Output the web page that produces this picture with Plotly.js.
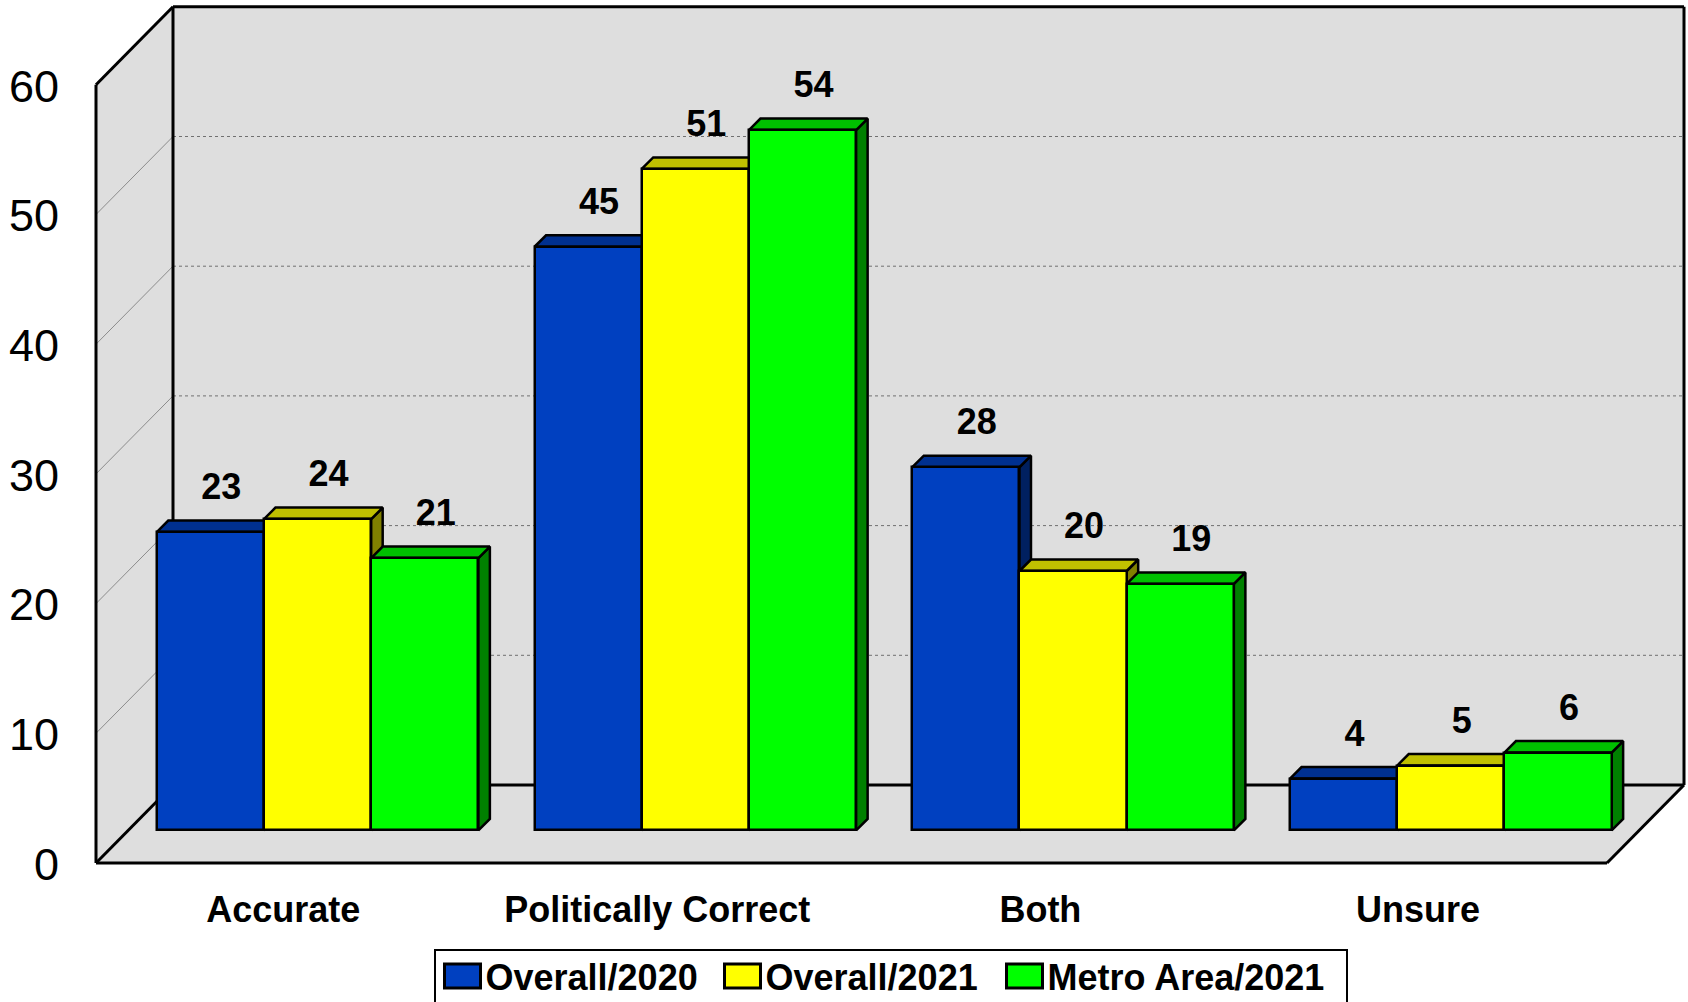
<!DOCTYPE html>
<html><head><meta charset="utf-8">
<script src="https://cdn.plot.ly/plotly-3.0.1.min.js"></script>
<style>html,body{margin:0;padding:0;background:#fff;overflow:hidden}#chart{width:1688px;height:1002px}</style>
</head><body><div id="chart"></div>
<script>
const categories = ["Accurate", "Politically Correct", "Both", "Unsure"];
const overall2020 = [23, 45, 28, 4];
const overall2021 = [24, 51, 20, 5];
const metro2021 = [21, 54, 19, 6];
const seriesNames = ["Overall/2020", "Overall/2021", "Metro Area/2021"];
const frontColors = ["#0040C0", "#FFFF00", "#00FF00"];
const topColors = ["#003090", "#C0C000", "#00C000"];
const sideColors = ["#002060", "#808000", "#008000"];
const yTicks = [0, 10, 20, 30, 40, 50, 60];
const gridValues = [10, 20, 30, 40, 50];

const seriesValues = [overall2020, overall2021, metro2021];
const FONT = '"Liberation Sans", Arial, sans-serif';
// pixels per data unit on each axis
const ux = 377.75, uy = 12.97;
const X = p => p / ux, Y = p => p / uy;
const wallDx = X(77), wallDy = Y(78);     // depth of the floor / side wall
const planeDx = X(32.7), planeDy = Y(32.6);   // where the bars stand on the floor
const barW = X(107.2), barDx = X(11.5), barDy = Y(11.5);
const x0 = -0.5, x1 = 3.5, yTop = 60;
const tickNudge = [X(-1.6), X(-5.4), 0, 0];

const traces = [];
seriesValues.forEach((vals, s) => {
  const tx = [], ty = [], sx = [], sy = [];
  vals.forEach((v, i) => {
    const l = i + planeDx + (s - 1.5) * barW, r = l + barW;
    const t = v + planeDy;
    tx.push(l, r, r + barDx, l + barDx, l, null);
    ty.push(t, t, t + barDy, t + barDy, t, null);
    sx.push(r, r, r + barDx, r + barDx, r, null);
    sy.push(planeDy, t, t + barDy, planeDy + barDy, planeDy, null);
  });
  traces.push({type: "scatter", mode: "lines", x: sx, y: sy, fill: "toself", fillcolor: sideColors[s],
    line: {color: "#000", width: 2.5}, hoverinfo: "skip", showlegend: false, zorder: s * 3});
  traces.push({type: "scatter", mode: "lines", x: tx, y: ty, fill: "toself", fillcolor: topColors[s],
    line: {color: "#000", width: 2.5}, hoverinfo: "skip", showlegend: false, zorder: s * 3 + 1});
  traces.push({type: "bar", name: seriesNames[s],
    x: vals.map((v, i) => i + planeDx + (s - 1) * barW), y: vals,
    base: vals.map(() => planeDy), width: barW,
    marker: {color: frontColors[s], line: {color: "#000", width: 2.5}}, zorder: s * 3 + 2});
});
seriesValues.forEach((vals, s) => {
  traces.push({type: "scatter", mode: "text",
    x: vals.map((v, i) => i + planeDx + (s - 1) * barW + barDx - X(0.5)),
    y: vals.map(v => v + planeDy + Y(42)),
    text: vals.map(String), textposition: "middle center",
    textfont: {family: FONT, size: 36, color: "#000", weight: "bold"},
    hoverinfo: "skip", showlegend: false, zorder: 20, cliponaxis: false});
});

const wallLine = {color: "#000", width: 3};
const noLine = {width: 0};
const poly = pts => "M" + pts.map(p => p[0] + "," + p[1]).join("L") + "Z";
const shapes = [
  {type: "path", path: poly([[x0 + wallDx, wallDy], [x1 + wallDx, wallDy], [x1 + wallDx, yTop + wallDy + 0.0], [x0 + wallDx, yTop + wallDy]]), fillcolor: "#DEDEDE", line: noLine},
  {type: "path", path: poly([[x0, 0], [x0 + wallDx, wallDy], [x0 + wallDx, yTop + wallDy], [x0, yTop]]), fillcolor: "#DEDEDE", line: noLine},
  {type: "path", path: poly([[x0, 0], [x1, 0], [x1 + wallDx, wallDy], [x0 + wallDx, wallDy]]), fillcolor: "#DEDEDE", line: noLine}
];
gridValues.forEach(v => {
  shapes.push({type: "line", x0: x0 + wallDx, x1: x1 + wallDx, y0: v + wallDy, y1: v + wallDy, line: {color: "#707070", width: 1, dash: "dot"}});
  shapes.push({type: "line", x0: x0, x1: x0 + wallDx, y0: v, y1: v + wallDy, line: {color: "#8C8C8C", width: 1}});
});
const edge = (a, b, c, d) => ({type: "line", x0: a, y0: b, x1: c, y1: d, line: wallLine});
shapes.push(
  edge(x0, 0, x0, yTop), edge(x0, yTop, x0 + wallDx, yTop + wallDy),
  edge(x0 + wallDx, wallDy, x0 + wallDx, yTop + wallDy), edge(x0 + wallDx, yTop + wallDy, x1 + wallDx, yTop + wallDy),
  edge(x1 + wallDx, wallDy, x1 + wallDx, yTop + wallDy),
  edge(x0, 0, x1, 0), edge(x0, 0, x0 + wallDx, wallDy), edge(x1, 0, x1 + wallDx, wallDy),
  edge(x0 + wallDx, wallDy, x1 + wallDx, wallDy)
);
shapes.forEach(s => s.layer = "below");

const layout = {
  width: 1688, height: 1002,
  margin: {l: 90, r: 0, t: 2, b: 133, pad: 0, autoexpand: false},
  paper_bgcolor: "#fff", plot_bgcolor: "#fff",
  barmode: "overlay", bargap: 0, showlegend: true, hovermode: false,
  xaxis: {range: [x0 - X(6), x0 + X(1592)], tickmode: "array", tickvals: categories.map((c, i) => i + tickNudge[i]), ticktext: categories,
    showgrid: false, zeroline: false, showline: false, ticks: "", ticklabelstandoff: 16,
    tickfont: {family: FONT, size: 36, color: "#000", weight: "bold"}, fixedrange: true},
  yaxis: {range: [Y(-6), Y(861)], tickmode: "array", tickvals: yTicks, ticktext: yTicks.map(String),
    showgrid: false, zeroline: false, showline: false, ticks: "", ticklabelstandoff: 30,
    tickfont: {family: FONT, size: 45, color: "#000"}, fixedrange: true},
  legend: {orientation: "h", x: (433.5 - 90) / 1598, xanchor: "left", y: (869 - 948.5) / 867, yanchor: "top",
    bgcolor: "#fff", bordercolor: "#000", borderwidth: 2, itemwidth: 34,
    font: {family: FONT, size: 36, color: "#000", weight: "bold"}, itemclick: false, itemdoubleclick: false},
  shapes: shapes
};
const legendTextLeft = [485.5, 765.5, 1047.5];
const legendBoxWidth = 912;
Plotly.newPlot("chart", traces, layout, {displayModeBar: false}).then(gd => {
  gd.querySelectorAll(".legend .legendpoints path").forEach(p => {
    p.setAttribute("d", "M17,12H-19V-12H17Z");
    p.style.strokeWidth = "3px";
  });
  gd.querySelectorAll(".legend .traces").forEach((g, i) => {
    const text = g.querySelector("text.legendtext");
    const left = text.getBoundingClientRect().left;
    const m = /translate\(\s*([-\d.]+)[ ,]+([-\d.]+)/.exec(g.getAttribute("transform"));
    g.setAttribute("transform", "translate(" + (parseFloat(m[1]) + legendTextLeft[i] - left) + "," + (parseFloat(m[2]) - 4.3) + ")");
  });
  gd.querySelectorAll(".legend rect.bg").forEach(r => r.setAttribute("width", legendBoxWidth));
  gd.querySelectorAll('clipPath[id^="legend"] rect').forEach(r => r.setAttribute("width", legendBoxWidth));
  gd.querySelectorAll(".ytick text").forEach(t => t.setAttribute("y", parseFloat(t.getAttribute("y") || 0) + 1));
});
</script></body></html>
